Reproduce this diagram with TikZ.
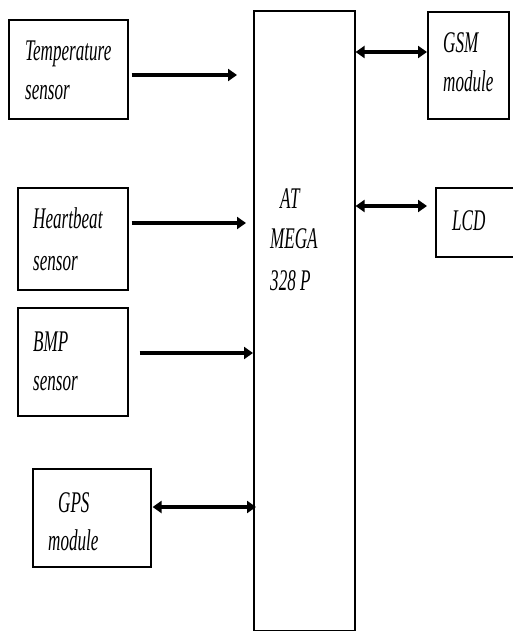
\documentclass[tikz,border=0pt]{standalone}
\usepackage{fontspec}
\setmainfont{Liberation Serif}
\usetikzlibrary{arrows.meta}
\newcommand\mytxt[1]{\scalebox{0.57}[1]{\fontsize{30}{30}\selectfont\itshape #1}}
\begin{document}
\begin{tikzpicture}[x=1pt,y=-1pt,
  box/.style={draw, line width=1.6pt, inner sep=0, anchor=north west},
  lab/.style={anchor=base west, inner sep=0},
  tip/.tip={Triangle[length=9pt,width=12pt]},
  arr/.style={line width=3.5pt, -tip},
  darr/.style={line width=3.5pt, tip-tip}]
\useasboundingbox (0,0) rectangle (513,631);
% boxes
\node[box, minimum width=119pt, minimum height=99pt] (temp) at (8,19) {};
\node[box, minimum width=110pt, minimum height=102pt] (heart) at (17,187) {};
\node[box, minimum width=110pt, minimum height=108pt] (bmp) at (17,307) {};
\node[box, minimum width=118pt, minimum height=98pt] (gps) at (32,468) {};
\node[box, minimum width=101pt, minimum height=620pt] (mcu) at (253,10) {};
\node[box, minimum width=81pt, minimum height=107pt] (gsm) at (427,11) {};
\node[box, minimum width=85pt, minimum height=69pt] (lcd) at (435,187) {};
% labels
\node[lab] (tl1) at (25,61) {\mytxt{Temperature}};
\node[lab] (tl2) at (25,100) {\mytxt{sensor}};
\node[lab] (hl1) at (33,228) {\mytxt{Heartbeat}};
\node[lab] (hl2) at (33,270) {\mytxt{sensor}};
\node[lab] (bl1) at (33,351) {\mytxt{BMP}};
\node[lab] (bl2) at (33,390) {\mytxt{sensor}};
\node[lab] (gl1) at (58,512) {\mytxt{GPS}};
\node[lab] (gl2) at (48,550) {\mytxt{module}};
\node[lab] (sl1) at (443,53) {\mytxt{GSM}};
\node[lab] (sl2) at (443,92) {\mytxt{module}};
\node[lab] (ll1) at (452,230) {\mytxt{LCD}};
\node[lab] (ml1) at (280,208) {\mytxt{AT}};
\node[lab] (ml2) at (270,248) {\mytxt{MEGA}};
\node[lab] (ml3) at (270,290) {\mytxt{328 P}};
% arrow levels
\coordinate (ya) at (0,75);
\coordinate (yb) at (0,223);
\coordinate (yc) at (0,353);
\coordinate (yd) at (0,507);
\coordinate (ye) at (0,52);
\coordinate (yf) at (0,206);
% connectors
\draw[arr, shorten <=3pt, shorten >=16pt] (temp.east |- ya) -- (mcu.west |- ya);
\draw[arr, shorten <=3pt, shorten >=7pt] (heart.east |- yb) -- (mcu.west |- yb);
\draw[arr, shorten <=11pt] (bmp.east |- yc) -- (mcu.west |- yc);
\draw[darr, shorten <=1pt, shorten >=-3pt] (gps.east |- yd) -- (mcu.west |- yd);
\draw[darr] (mcu.east |- ye) -- (gsm.west |- ye);
\draw[darr, shorten >=8pt] (mcu.east |- yf) -- (lcd.west |- yf);
\end{tikzpicture}
\end{document}
